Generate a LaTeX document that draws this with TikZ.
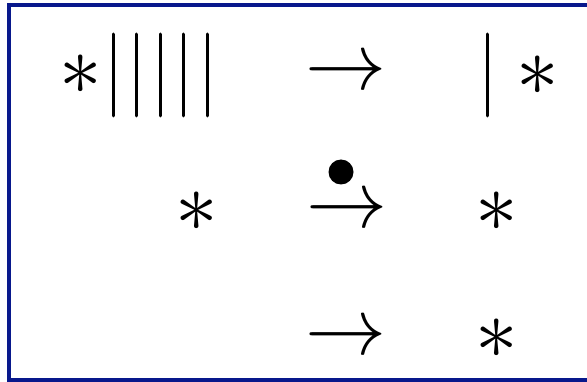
\documentclass[tikz,border=0pt]{standalone}
\usepackage{graphicx}
\definecolor{frameblue}{RGB}{8,24,140}
\tikzset{
  sym/.style={inner sep=0pt, outer sep=0pt, anchor=center},
  bar/.style={line width=3pt, line cap=round},
  frameline/.style={frameblue, line width=4pt}
}
\newcommand{\bigast}{\scalebox{8.5}{$\ast$}}
\newcommand{\bigarr}{\scalebox{8.1}{$\rightarrow$}}
\begin{document}
\begin{tikzpicture}[x=1pt,y=-1pt]
\useasboundingbox (0,0) rectangle (587,382);
\fill[white] (0,0) rectangle (587,382);
% frame (cropped: top, left, bottom)
\draw[frameline] (9,5) -- (587,5);
\draw[frameline] (9,3) -- (9,382);
\draw[frameline] (7,380.5) -- (587,380.5);
% row 1
\node[sym] (a1) at (81,75) {\bigast};
\foreach \x [count=\i] in {113,136,160,183,207}
  \draw[bar] (\x,34) -- (\x,116) coordinate (b\i);
\node[sym] (r1) at (346,75) {\bigarr};
\draw[bar] (487,34) -- (487,116) coordinate (c1);
\node[sym] (a2) at (538,76) {\bigast};
% row 2
\fill (341,172) circle (12.5) coordinate (dot);
\node[sym] (a3) at (197,212) {\bigast};
\node[sym] (r2) at (347,213) {\bigarr};
\node[sym] (a4) at (497,212) {\bigast};
% row 3
\node[sym] (r3) at (346,340) {\bigarr};
\node[sym] (a5) at (497,339) {\bigast};
\end{tikzpicture}
\end{document}
